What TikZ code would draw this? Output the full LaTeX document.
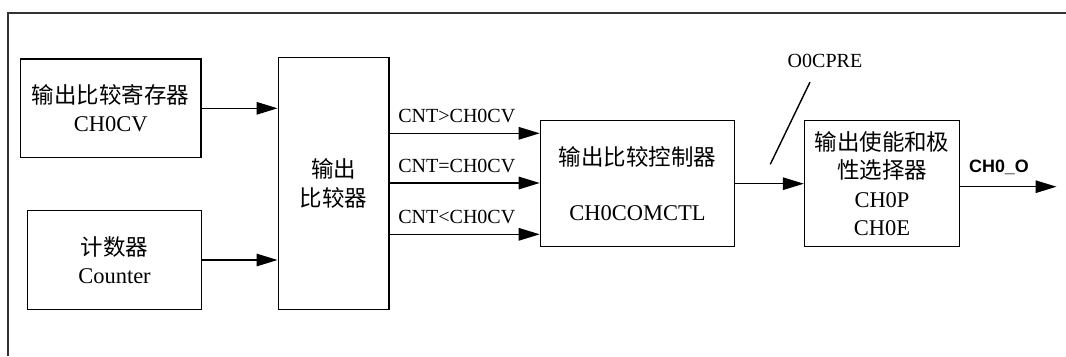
\documentclass[tikz,border=0pt]{standalone}
\usepackage{fontspec}
\setmainfont{Liberation Serif}
\setsansfont{Liberation Sans}
\newfontfamily\cjk{Noto Sans CJK SC}
\usetikzlibrary{arrows.meta}

\begin{document}
\begin{tikzpicture}[x=0.02cm, y=-0.02cm,
    block/.style={draw, line width=0.8pt, align=center, inner sep=0pt,
      font=\fontsize{12.8}{16.2}\selectfont},
    sig/.style={line width=0.8pt, -{Triangle[length=4.2mm, width=2.5mm]}},
    lbl/.style={inner sep=0pt, font=\fontsize{11.4}{13}\selectfont}]
    \useasboundingbox (0,0) rectangle (1066,356);

    % outer frame (only top and left edge in view)
    \draw[line width=0.8pt, black!80] (8,356) -- (8,13) -- (1066,13);

    % inputs
    \node[block, minimum width=3.62cm, minimum height=1.98cm] (reg) at (110.7,108.3)
      {{\cjk 输出比较寄存器}\\CH0CV};
    \node[block, minimum width=3.48cm, minimum height=1.98cm] (cnt) at (114.5,260)
      {{\cjk 计数器}\\Counter};

    % comparator and control
    \node[block, minimum width=2.22cm, minimum height=5.04cm] (cmp) at (333.7,183.5)
      {{\cjk 输出}\\{\cjk 比较器}};
    \node[block, minimum width=3.88cm, minimum height=2.52cm] (ctl) at (637.4,183.7)
      {{\cjk 输出比较控制器}\\[0.52cm]CH0COMCTL};
    \node[block, minimum width=3.10cm, minimum height=2.52cm] (sel) at (882,183.7)
      {{\cjk 输出使能和极}\\{\cjk 性选择器}\\CH0P\\CH0E};

    \draw[sig] (reg.east) -- (reg.east -| cmp.west);
    \draw[sig] (cnt.east) -- (cnt.east -| cmp.west);

    \foreach \y/\txt/\nm in {133.3/CNT>CH0CV/gt, 183/CNT=CH0CV/eq, 234.3/CNT<CH0CV/lt} {
      \draw[sig] (cmp.east |- {(0,\y)}) -- (ctl.west |- {(0,\y)})
        node[lbl, midway, anchor=base, yshift=0.22cm, xshift=-0.16cm] (\nm) {\txt};
    }

    \draw[sig] (ctl.east) -- (sel.west);

    % O0CPRE marker
    \node[lbl] (pre) at (825,61) {O0CPRE};
    \coordinate (tick) at (770.3,164.3);
    \draw[line width=0.8pt] ([shift={(-15,14)}]pre.south) -- (tick);

    % output
    \coordinate (out) at (1056.5,186.7);
    \draw[sig] (sel.east |- out) -- (out);
    \node[inner sep=0pt, font=\sffamily\bfseries\fontsize{10.2}{12}\selectfont] (outlbl)
      at (999,167.7) {CH0\_O};
\end{tikzpicture}
\end{document}
